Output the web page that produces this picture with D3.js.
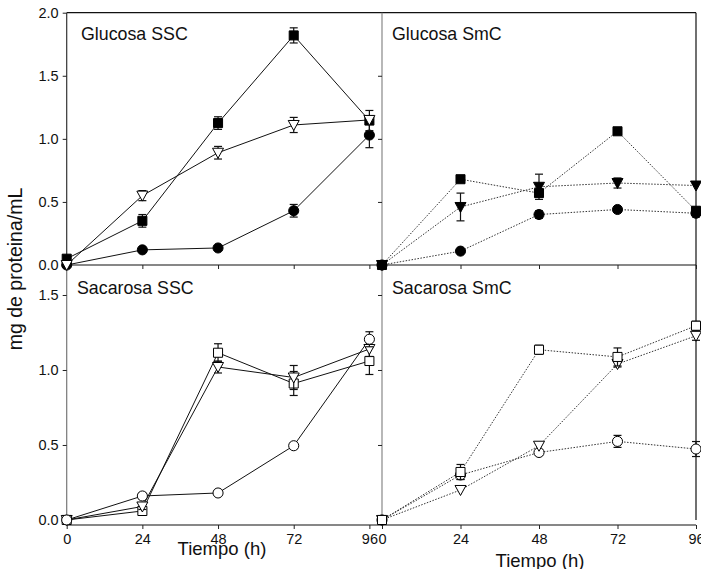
<!DOCTYPE html>
<html>
<head>
<meta charset="utf-8">
<script src="https://cdn.jsdelivr.net/npm/d3@7"></script>
<style>
  body { margin: 0; background: white; }
  svg { display: block; font-family: "Liberation Sans", Arial, sans-serif; }
</style>
</head>
<body>
<div id="chart"></div>
<script>
// sampling times (h)
const tiempos = [0, 24, 48, 72, 96]
const yTicksTop = [0, 0.5, 1.0, 1.5, 2.0]
const yTicksBottom = [0, 0.5, 1.0, 1.5]

// Glucosa SSC (solid lines, filled markers)
const gSSC_cuadrado = [0.05, 0.35, 1.125, 1.82, 1.145]
const gSSC_cuadradoErr = [0, 0.05, 0.05, 0.06, 0.08]
const gSSC_triangulo = [0, 0.55, 0.89, 1.11, 1.15]
const gSSC_trianguloErr = [0, 0.04, 0.05, 0.06, 0]
const gSSC_circulo = [0, 0.12, 0.135, 0.43, 1.03]
const gSSC_circuloErr = [0, 0, 0, 0.05, 0.1]

// Glucosa SmC (dotted lines, filled markers)
const gSmC_cuadrado = [0, 0.68, 0.57, 1.06, 0.43]
const gSmC_cuadradoErr = [0, 0, 0.03, 0, 0.03]
const gSmC_triangulo = [0, 0.46, 0.62, 0.65, 0.63]
const gSmC_trianguloErr = [0, 0.11, 0.1, 0.04, 0]
const gSmC_circulo = [0, 0.11, 0.4, 0.44, 0.41]
const gSmC_circuloErr = [0, 0, 0.03, 0, 0.03]

// Sacarosa SSC (solid lines, open markers)
const sSSC_cuadrado = [0, 0.06, 1.115, 0.91, 1.06]
const sSSC_cuadradoErr = [0, 0.02, 0.06, 0.08, 0.09]
const sSSC_triangulo = [0, 0.09, 1.02, 0.95, 1.14]
const sSSC_trianguloErr = [0, 0.02, 0.04, 0.08, 0.05]
const sSSC_circulo = [0, 0.16, 0.18, 0.495, 1.205]
const sSSC_circuloErr = [0, 0.02, 0.02, 0.02, 0.05]

// Sacarosa SmC (dotted lines, open markers)
const sSmC_cuadrado = [0, 0.32, 1.135, 1.087, 1.295]
const sSmC_cuadradoErr = [0, 0.05, 0.03, 0.06, 0.03]
const sSmC_triangulo = [0, 0.2, 0.495, 1.04, 1.228]
const sSmC_trianguloErr = [0, 0, 0, 0.02, 0.03]
const sSmC_circulo = [0, 0.3, 0.45, 0.524, 0.473]
const sSmC_circuloErr = [0, 0.03, 0.02, 0.04, 0.05]

const width = 701, height = 569

const svg = d3.select("#chart").append("svg")
    .attr("width", width)
    .attr("height", height)
    .attr("viewBox", [0, 0, width, height])

//1. scales
const xLeft = d3.scaleLinear().domain([0, 100]).range([66.7, 382])
const xRight = d3.scaleLinear().domain([0, 96]).range([382, 696])
const yTop = d3.scaleLinear().domain([0, 2]).range([265, 12.7])
const yBottom = d3.scaleLinear().domain([-0.0335, 1.7]).range([525, 265])

//2. frame lines
const frame = (x1, y1, x2, y2, color) => svg.append("line")
    .attr("x1", x1).attr("y1", y1).attr("x2", x2).attr("y2", y2)
    .attr("stroke", color).attr("stroke-width", 1.2)

frame(66.7, 12.7, 696, 12.7, "#111")
frame(66.7, 265, 696, 265, "#111")
frame(66.7, 525, 696, 525, "#111")
frame(696, 12.7, 696, 520, "#111")
frame(66.7, 12.7, 66.7, 265, "#333")
frame(66.7, 265, 66.7, 525, "#777")
frame(382, 12.7, 382, 525, "#888")

//3. axes
const drawX = (scale, y, labels) => {
    const g = svg.append("g")
        .attr("transform", `translate(0,${y})`)
        .call(d3.axisBottom(scale)
            .tickValues(tiempos)
            .tickSize(4)
            .tickSizeOuter(0)
            .tickFormat(labels ? d => d : ""))
    g.select(".domain").remove()
    g.selectAll(".tick line").attr("stroke", "#222")
    g.selectAll(".tick text")
        .attr("font-size", "14.5px")
        .attr("font-family", "Liberation Sans, Arial, sans-serif")
        .attr("fill", "#111")
        .attr("dy", "0.85em")
}
drawX(xLeft, 265, false)
drawX(xRight, 265, false)
drawX(xLeft, 525, true)
drawX(xRight, 525, true)

const drawY = (scale, x, ticks, labels) => {
    const g = svg.append("g")
        .attr("transform", `translate(${x},0)`)
        .call(d3.axisLeft(scale)
            .tickValues(ticks)
            .tickSize(4)
            .tickSizeOuter(0)
            .tickFormat(labels ? d3.format(".1f") : ""))
    g.select(".domain").remove()
    g.selectAll(".tick line").attr("stroke", "#222")
    g.selectAll(".tick text")
        .attr("font-size", "14.5px")
        .attr("font-family", "Liberation Sans, Arial, sans-serif")
        .attr("fill", "#111")
        .attr("x", -8)
}
drawY(yTop, 66.7, yTicksTop, true)
drawY(yBottom, 66.7, yTicksBottom, true)
drawY(yTop, 382, yTicksTop.slice(1, 4), false)
drawY(yBottom, 382, yTicksBottom.slice(1), false)

//4. series
const panels = [
    {x: xLeft, y: yTop, dotted: false, filled: true, name: "Glucosa SSC", lx: 81, ly: 40,
     series: [[gSSC_circulo, gSSC_circuloErr, "circle"],
              [gSSC_cuadrado, gSSC_cuadradoErr, "square"],
              [gSSC_triangulo, gSSC_trianguloErr, "triangleOpen"]]},
    {x: xRight, y: yTop, dotted: true, filled: true, name: "Glucosa SmC", lx: 392, ly: 40,
     series: [[gSmC_circulo, gSmC_circuloErr, "circle"],
              [gSmC_triangulo, gSmC_trianguloErr, "triangle"],
              [gSmC_cuadrado, gSmC_cuadradoErr, "square"]]},
    {x: xLeft, y: yBottom, dotted: false, filled: false, name: "Sacarosa SSC", lx: 77, ly: 294,
     series: [[sSSC_cuadrado, sSSC_cuadradoErr, "square"],
              [sSSC_triangulo, sSSC_trianguloErr, "triangle"],
              [sSSC_circulo, sSSC_circuloErr, "circle"]]},
    {x: xRight, y: yBottom, dotted: true, filled: false, name: "Sacarosa SmC", lx: 392, ly: 294,
     series: [[sSmC_circulo, sSmC_circuloErr, "circle"],
              [sSmC_triangulo, sSmC_trianguloErr, "triangle"],
              [sSmC_cuadrado, sSmC_cuadradoErr, "square"]]}
]

const symbolPath = (shape) => {
    if (shape === "square") return d3.symbol(d3.symbolSquare, 82)()
    if (shape === "circle") return d3.symbol(d3.symbolCircle, 80)()
    // downward triangle
    return "M-5.5,-4.5L5.5,-4.5L0,5.5Z"
}

panels.forEach(p => {
    const line = d3.line()
        .x((d, i) => p.x(tiempos[i]))
        .y(d => p.y(d))

    p.series.forEach(([vals, errs]) => {
        svg.append("path")
            .datum(vals)
            .attr("fill", "none")
            .attr("stroke", p.dotted ? "#333" : "#111")
            .attr("stroke-width", 1)
            .attr("stroke-dasharray", p.dotted ? "1.5,1.5" : null)
            .attr("d", line)
    })

    p.series.forEach(([vals, errs, shape]) => {
        //error bars
        vals.forEach((v, i) => {
            if (!errs[i]) return
            const cx = p.x(tiempos[i])
            const y1 = p.y(v - errs[i]), y2 = p.y(v + errs[i])
            svg.append("line").attr("x1", cx).attr("x2", cx).attr("y1", y1).attr("y2", y2)
                .attr("stroke", "#111").attr("stroke-width", 1.2)
            ;[y1, y2].forEach(yy => svg.append("line")
                .attr("x1", cx - 4).attr("x2", cx + 4).attr("y1", yy).attr("y2", yy)
                .attr("stroke", "#111").attr("stroke-width", 1.2))
        })
        //markers
        const open = !p.filled || shape === "triangleOpen"
        svg.selectAll(null)
            .data(vals)
            .join("path")
            .attr("transform", (d, i) => `translate(${p.x(tiempos[i])},${p.y(d)})`)
            .attr("d", symbolPath(shape))
            .attr("fill", open ? "white" : "black")
            .attr("stroke", "black")
            .attr("stroke-width", 1)
    })

    svg.append("text")
        .attr("x", p.lx)
        .attr("y", p.ly)
        .attr("font-size", "17.8px")
        .attr("fill", "#111")
        .text(p.name)
})

//5. axis titles
svg.append("text")
    .attr("transform", "translate(22,269) rotate(-90)")
    .attr("text-anchor", "middle")
    .attr("font-size", "19.5px")
    .attr("fill", "#111")
    .text("mg de proteina/mL")

svg.append("text")
    .attr("x", 222).attr("y", 555)
    .attr("text-anchor", "middle")
    .attr("font-size", "18.5px")
    .attr("fill", "#111")
    .text("Tiempo (h)")

svg.append("text")
    .attr("x", 540).attr("y", 567)
    .attr("text-anchor", "middle")
    .attr("font-size", "18.5px")
    .attr("fill", "#111")
    .text("Tiempo (h)")
</script>
</body>
</html>
